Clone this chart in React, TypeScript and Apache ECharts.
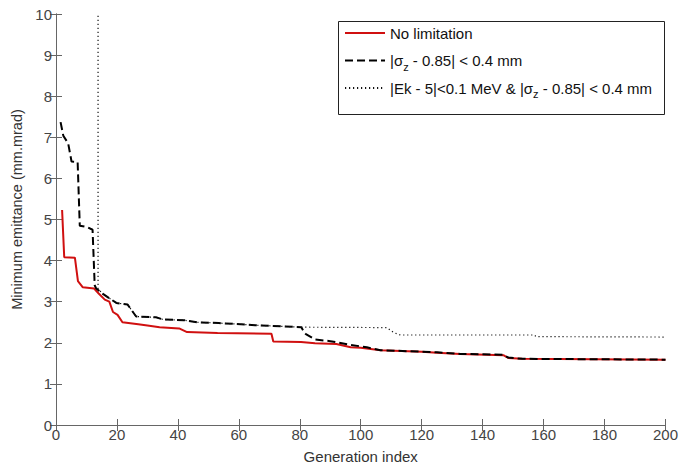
import React, { useEffect, useRef } from "react";
import * as echarts from "echarts";

// Generation index / minimum emittance (mm.mrad)
const noLimitGen = [2, 2.7, 6.2, 7.2, 8.8, 12.5, 14, 16, 17.5, 18.7, 20.2, 21.8, 27, 30, 34, 40.4, 43, 53, 70.7, 71.3, 80.4, 85, 92, 96.7, 100, 106.5, 120, 125, 132.6, 146.8, 148.4, 153, 200];
const noLimitVal = [5.23, 4.08, 4.07, 3.5, 3.35, 3.32, 3.2, 3.05, 3.0, 2.75, 2.68, 2.5, 2.45, 2.42, 2.38, 2.35, 2.26, 2.24, 2.22, 2.03, 2.02, 1.99, 1.97, 1.89, 1.88, 1.82, 1.78, 1.76, 1.73, 1.70, 1.63, 1.61, 1.59];

const sigmaGen = [1.5, 2.4, 4, 5.1, 7.1, 7.8, 10, 12, 12.7, 13.2, 15.4, 17.6, 19.8, 23.5, 26.3, 32.8, 35, 42, 46.4, 53.4, 65.3, 80.5, 81.5, 82, 85, 90, 96.7, 102, 106.5, 125, 132.6, 146.8, 148.4, 153, 200];
const sigmaVal = [7.37, 7.04, 6.85, 6.41, 6.4, 4.85, 4.82, 4.75, 3.4, 3.32, 3.19, 3.08, 2.97, 2.93, 2.64, 2.62, 2.57, 2.55, 2.5, 2.48, 2.43, 2.38, 2.25, 2.21, 2.08, 2.04, 1.95, 1.89, 1.82, 1.77, 1.73, 1.71, 1.64, 1.61, 1.59];

const bothGen = [13.8, 13.8, 15.4, 17.6, 19.8, 23.5, 26.3, 32.8, 35, 42, 46.4, 53.4, 65.3, 80.5, 108.6, 110.8, 113, 157, 157.5, 200];
const bothVal = [12, 3.31, 3.19, 3.08, 2.97, 2.93, 2.64, 2.62, 2.57, 2.55, 2.5, 2.48, 2.43, 2.38, 2.37, 2.25, 2.19, 2.19, 2.15, 2.14];

const seriesNames = [
  "No limitation",
  "|σz - 0.85| < 0.4 mm",
  "|Ek - 5|<0.1 MeV & |σz - 0.85| < 0.4 mm",
];

const xTicks = { min: 0, max: 200, interval: 20 };
const yTicks = { min: 0, max: 10, interval: 1 };

const FONT = "'Liberation Sans', Arial, sans-serif";

const pairs = (xs: number[], ys: number[]) => xs.map((x, i) => [x, ys[i]]);

export default function App() {
  const ref = useRef<HTMLDivElement>(null);
  useEffect(() => {
    if (!ref.current) return;
    const chart = echarts.init(ref.current, undefined, { renderer: "svg" });
    const axisLine = { show: true, lineStyle: { color: "#666", width: 1 } };
    const axisTick = { show: true, inside: true, length: 6, lineStyle: { color: "#666" } };
    chart.setOption({
      animation: false,
      backgroundColor: "#fff",
      textStyle: { fontFamily: FONT },
      grid: { left: 56, right: 11, top: 14, bottom: 43, containLabel: false },
      xAxis: [
        {
          type: "value",
          ...xTicks,
          position: "bottom",
          axisLine,
          axisTick,
          splitLine: { show: false },
          axisLabel: { fontSize: 15, color: "#444", margin: 2, fontFamily: FONT },
          name: "Generation index",
          nameLocation: "middle",
          nameGap: 24,
          nameTextStyle: { fontSize: 15, color: "#333", fontFamily: FONT },
        },
        {
          type: "value",
          ...xTicks,
          position: "top",
          axisLine,
          axisTick,
          splitLine: { show: false },
          axisLabel: { show: false },
        },
      ],
      yAxis: [
        {
          type: "value",
          ...yTicks,
          position: "left",
          axisLine,
          axisTick,
          splitLine: { show: false },
          axisLabel: { fontSize: 15, color: "#444", margin: 4, fontFamily: FONT },
          name: "Minimum emittance (mm.mrad)",
          nameLocation: "middle",
          nameGap: 29,
          nameTextStyle: { fontSize: 14.5, color: "#333", fontFamily: FONT, padding: [0, 0, 0, 20] },
        },
        {
          type: "value",
          ...yTicks,
          position: "right",
          axisLine,
          axisTick,
          splitLine: { show: false },
          axisLabel: { show: false },
        },
      ],
      legend: {
        show: true,
        orient: "vertical",
        left: 344,
        top: 21.5,
        padding: 0,
        itemWidth: 40,
        itemHeight: 14,
        itemGap: 4.5,
        selectedMode: false,
        itemStyle: { opacity: 0 },
        data: seriesNames,
        formatter: (name: string) => name.replace(/σz/g, "σ{sub|z}"),
        textStyle: {
          fontSize: 15,
          color: "#111",
          fontFamily: FONT,
          lineHeight: 23,
          rich: {
            sub: { fontSize: 11, lineHeight: 11, padding: [12, 0, 0, 0], color: "#111", fontFamily: FONT },
          },
        },
      },
      graphic: [
        {
          type: "rect",
          z: 3,
          shape: { x: 338.5, y: 21.5, width: 326, height: 93 },
          style: { fill: "#fff", stroke: "#222", lineWidth: 1 },
        },
      ],
      series: [
        {
          name: seriesNames[0],
          type: "line",
          data: pairs(noLimitGen, noLimitVal),
          showSymbol: false,
          symbol: "none",
          clip: true,
          z: 2,
          lineStyle: { color: "#d01010", width: 2 },
          itemStyle: { color: "#d01010" },
        },
        {
          name: seriesNames[1],
          type: "line",
          data: pairs(sigmaGen, sigmaVal),
          showSymbol: false,
          symbol: "none",
          clip: true,
          z: 2,
          lineStyle: { color: "#000", width: 2, type: [8, 4] },
          itemStyle: { color: "#000" },
        },
        {
          name: seriesNames[2],
          type: "line",
          data: pairs(bothGen, bothVal),
          showSymbol: false,
          symbol: "none",
          clip: true,
          z: 2,
          lineStyle: { color: "#111", width: 1.2, type: [1.2, 2.8] },
          itemStyle: { color: "#111" },
        },
      ],
    });
    return () => chart.dispose();
  }, []);
  return <div ref={ref} style={{ width: 681, height: 469, position: "absolute", left: 0, top: 0 }} />;
}
